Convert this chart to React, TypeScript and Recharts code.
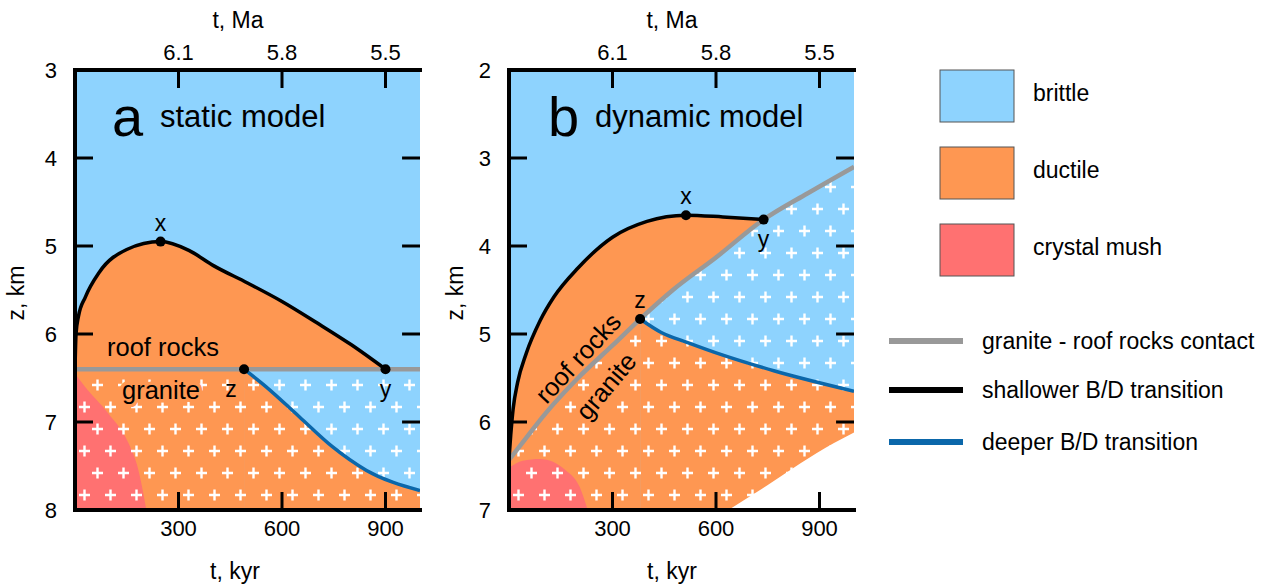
import {
  Area,
  CartesianGrid,
  ComposedChart,
  Line,
  ReferenceDot,
  ReferenceLine,
  XAxis,
  YAxis,
} from "recharts"
import type { ReactNode } from "react"

// colours
const BRITTLE = "#8ed3fe"
const DUCTILE = "#fe9752"
const MUSH = "#ff7171"
const CONTACT = "#999999"
const DEEPER = "#0b67aa"

// shared axes
const kyrTicks = [300, 600, 900]
const maTickLabels = ["6.1", "5.8", "5.5"]
const T_MAX = 1000

// panel a, static model
const aDepthTicks = [3, 4, 5, 6, 7, 8]
const aShallowT = [0, 3, 10, 30, 70, 150, 248, 330, 400, 500, 600, 700, 800, 900]
const aShallowZ = [6.4, 6.0, 5.8, 5.58, 5.3, 5.04, 4.95, 5.05, 5.22, 5.42, 5.63, 5.87, 6.12, 6.4]
const aContactT = [0, 1000]
const aContactZ = [6.4, 6.4]
const aDeepT = [490, 554, 650, 746, 845, 1000]
const aDeepZ = [6.4, 6.6, 6.94, 7.28, 7.55, 7.78]
const aMushT = [0, 29, 96, 155, 184, 207]
const aMushZ = [6.45, 6.6, 6.9, 7.24, 7.55, 8.0]
const aDotT = [248, 900, 490]
const aDotZ = [4.95, 6.4, 6.4]

// panel b, dynamic model
const bDepthTicks = [2, 3, 4, 5, 6, 7]
const bShallowT = [0, 5, 12, 25, 50, 90, 130, 200, 300, 400, 513, 620, 738]
const bShallowZ = [6.42, 6.15, 5.85, 5.55, 5.22, 4.85, 4.58, 4.25, 3.9, 3.72, 3.65, 3.67, 3.7]
const bContactT = [0, 50, 100, 200, 300, 380, 475, 600, 738, 866, 1000]
const bContactZ = [6.43, 6.18, 5.93, 5.5, 5.13, 4.83, 4.5, 4.13, 3.7, 3.4, 3.1]
const bDeepT = [380, 440, 520, 620, 770, 1000]
const bDeepZ = [4.83, 4.98, 5.1, 5.24, 5.42, 5.65]
const bMushT = [0, 40, 90, 165, 205, 228]
const bMushZ = [6.52, 6.44, 6.42, 6.55, 6.74, 7.0]
const bLowerT = [636, 749, 845, 942, 1000]
const bLowerZ = [7.0, 6.72, 6.47, 6.24, 6.12]
const bDotT = [513, 738, 380]
const bDotZ = [3.65, 3.7, 4.83]

const dotLabels = ["x", "y", "z"]

type Pt = { t: number; z: number }
const pts = (ts: number[], zs: number[]): Pt[] => ts.map((t, i) => ({ t, z: zs[i] }))

type DotSpec = { t: number; z: number; label: string; pos: string; dx?: number }

type PanelProps = {
  id: string
  left: number
  depthTicks: number[]
  shallow: Pt[]
  contact: Pt[]
  brittleGranite: Pt[]
  deep: Pt[]
  mush: Pt[]
  lower?: Pt[]
  dots: DotSpec[]
  children?: ReactNode
}

const font = "'Liberation Sans', Arial, sans-serif"

// chart frame
const W = 440
const H = 588
const MARGIN = { top: 10, right: 20, bottom: 10, left: 20 }
const Y_AXIS_W = 55
const TOP_AXIS_H = 60
const BOTTOM_AXIS_H = 68
const PLOT_LEFT = MARGIN.left + Y_AXIS_W
const PLOT_TOP = MARGIN.top + TOP_AXIS_H
const PLOT_W = W - PLOT_LEFT - MARGIN.right
const PANEL_LEFTS = [0, 434]

// inward tick length for the right frame, in data units (about 18 px)
const TICK_T = 52
const TICK_PX = 18

const Panel = ({
  id,
  left,
  depthTicks,
  shallow,
  contact,
  brittleGranite,
  deep,
  mush,
  lower,
  dots,
  children,
}: PanelProps) => {
  const zMin = depthTicks[0]
  const zMax = depthTicks[depthTicks.length - 1]
  const tick = { fontSize: 22, fill: "#000", fontFamily: font }
  const border = { stroke: "#000", strokeWidth: 4, strokeLinecap: "square" as const }
  const tickLine = { stroke: "#000", strokeWidth: 3 }
  const area = { dataKey: "z", type: "monotone" as const, baseValue: zMax, fillOpacity: 1, stroke: "none", isAnimationActive: false }
  return (
    <div style={{ position: "absolute", left, top: 0, width: W, height: H }}>
      <ComposedChart width={W} height={H} margin={MARGIN}>
        <defs>
          <pattern
            id={`plus-${id}`}
            width={26}
            height={44}
            patternUnits='userSpaceOnUse'
          >
            <path
              d='M1 11h11M6.5 5.5v11M14 33h11M19.5 27.5v11'
              stroke='#fff'
              strokeWidth={2.4}
            />
          </pattern>
        </defs>
        <CartesianGrid horizontal={false} vertical={false} fill={BRITTLE} />

        <Area {...area} data={shallow} fill={DUCTILE} />
        <Area {...area} data={brittleGranite} fill={BRITTLE} />
        <Area {...area} data={deep} fill={DUCTILE} />
        <Area {...area} data={mush} fill={MUSH} />
        <Area {...area} data={contact} fill={`url(#plus-${id})`} />
        {lower && <Area {...area} data={lower} fill='#fff' />}

        <Line data={contact} dataKey='z' type='monotone' stroke={CONTACT} strokeWidth={4.5} dot={false} isAnimationActive={false} />
        <Line data={shallow} dataKey='z' type='monotone' stroke='#000' strokeWidth={3.5} dot={false} isAnimationActive={false} />
        <Line
          data={deep}
          dataKey='z'
          type='monotone'
          xAxisId='top'
          yAxisId='right'
          stroke={DEEPER}
          strokeWidth={3.5}
          dot={false}
          isAnimationActive={false}
        />

        {depthTicks.slice(1, -1).map((z) => (
          <ReferenceLine
            key={`rt${z}`}
            segment={[{ x: T_MAX, y: z }, { x: T_MAX - TICK_T, y: z }]}
            stroke='#000'
            strokeWidth={3}
          />
        ))}

        {dots.map((d) => (
          <ReferenceDot
            key={d.label}
            x={d.t}
            y={d.z}
            r={5}
            fill='#000'
            stroke='none'
            label={{
              value: d.label,
              position: d.pos as any,
              fontSize: 23,
              fill: "#000",
              offset: 6,
              dx: d.dx ?? 0,
              fontFamily: font,
            }}
          />
        ))}

        <XAxis
          type='number'
          dataKey='t'
          domain={[0, T_MAX]}
          allowDataOverflow
          ticks={kyrTicks}
          height={BOTTOM_AXIS_H}
          tick={tick}
          tickSize={-TICK_PX}
          tickMargin={28}
          tickLine={tickLine}
          axisLine={border}
        />
        <XAxis
          xAxisId='top'
          orientation='top'
          type='number'
          dataKey='t'
          domain={[0, T_MAX]}
          allowDataOverflow
          ticks={kyrTicks}
          tickFormatter={(v: number) => maTickLabels[kyrTicks.indexOf(v)]}
          height={TOP_AXIS_H}
          tick={tick}
          tickSize={0}
          tickMargin={10}
          tickLine={false}
          axisLine={border}
        />
        <YAxis
          type='number'
          domain={[zMin, zMax]}
          allowDataOverflow
          ticks={depthTicks}
          reversed
          width={Y_AXIS_W}
          tick={tick}
          tickSize={-TICK_PX}
          tickMargin={36}
          tickLine={tickLine}
          axisLine={border}
        />
        <YAxis
          yAxisId='right'
          orientation='right'
          type='number'
          domain={[zMin, zMax]}
          allowDataOverflow
          ticks={depthTicks}
          reversed
          width={0}
          tick={false}
          tickLine={false}
          axisLine={border}
        />
      </ComposedChart>
      <svg
        width={W}
        height={H}
        style={{ position: "absolute", left: 0, top: 0, pointerEvents: "none" }}
      >
        {children}
      </svg>
    </div>
  )
}

const halo = (c: string) => ({ stroke: c, strokeWidth: 7, paintOrder: "stroke" as const })

const Overlay = () => {
  const boxes = [
    { label: "brittle", fill: BRITTLE, y: 70 },
    { label: "ductile", fill: DUCTILE, y: 147 },
    { label: "crystal mush", fill: MUSH, y: 224 },
  ]
  const lines = [
    { label: "granite - roof rocks contact", stroke: CONTACT, y: 341 },
    { label: "shallower B/D transition", stroke: "#000", y: 390 },
    { label: "deeper B/D transition", stroke: DEEPER, y: 442 },
  ]
  return (
    <svg
      width={1270}
      height={588}
      style={{ position: "absolute", left: 0, top: 0, pointerEvents: "none" }}
    >
      {/* inward marks of the top (Ma) axes */}
      {PANEL_LEFTS.map((pl) =>
        kyrTicks.map((t) => {
          const x = pl + PLOT_LEFT + (t / T_MAX) * PLOT_W
          return (
            <rect
              key={`${pl}-${t}`}
              x={x - 1.5}
              y={PLOT_TOP}
              width={3}
              height={TICK_PX}
              fill='#000'
            />
          )
        })
      )}
      {boxes.map((b) => (
        <g key={b.label}>
          <rect x={940} y={b.y} width={74} height={52} fill={b.fill} stroke='#555' strokeWidth={1} />
          <text x={1033} y={b.y + 31} fontSize={23} fill='#000'>
            {b.label}
          </text>
        </g>
      ))}
      {lines.map((l) => (
        <g key={l.label}>
          <line x1={889} x2={963} y1={l.y} y2={l.y} stroke={l.stroke} strokeWidth={6} />
          <text x={982} y={l.y + 8} fontSize={23} fill='#000'>
            {l.label}
          </text>
        </g>
      ))}
    </svg>
  )
}

const App = () => {
  const aDots: DotSpec[] = [
    { t: aDotT[0], z: aDotZ[0], label: dotLabels[0], pos: "top" },
    { t: aDotT[1], z: aDotZ[1], label: dotLabels[1], pos: "bottom" },
    { t: aDotT[2], z: aDotZ[2], label: dotLabels[2], pos: "bottom", dx: -13 },
  ]
  const bDots: DotSpec[] = [
    { t: bDotT[0], z: bDotZ[0], label: dotLabels[0], pos: "top" },
    { t: bDotT[1], z: bDotZ[1], label: dotLabels[1], pos: "bottom" },
    { t: bDotT[2], z: bDotZ[2], label: dotLabels[2], pos: "top" },
  ]
  const aContact = pts(aContactT, aContactZ)
  const bContact = pts(bContactT, bContactZ)

  return (
    <div
      style={{
        position: "absolute",
        left: 0,
        top: 0,
        width: 1270,
        height: 588,
        background: "#fff",
        fontFamily: font,
      }}
    >
      <Panel
        id='a'
        left={PANEL_LEFTS[0]}
        depthTicks={aDepthTicks}
        shallow={pts(aShallowT, aShallowZ)}
        contact={aContact}
        brittleGranite={[{ t: aDeepT[0], z: aContactZ[0] }, { t: aContactT[1], z: aContactZ[1] }]}
        deep={pts(aDeepT, aDeepZ)}
        mush={pts(aMushT, aMushZ)}
        dots={aDots}
      >
        <text x={112} y={136} fontSize={56} fill='#000'>a</text>
        <text x={160} y={127} fontSize={31} fill='#000'>static model</text>
        <text x={107} y={356} fontSize={25.5} fill='#000'>roof rocks</text>
        <text x={122} y={399} fontSize={25.5} fill='#000' {...halo(DUCTILE)}>granite</text>
        <text x={238} y={28} fontSize={23} textAnchor='middle' fill='#000'>t, Ma</text>
        <text x={235} y={579} fontSize={23} textAnchor='middle' fill='#000'>t, kyr</text>
        <text x={24} y={293} fontSize={23} textAnchor='middle' fill='#000' transform='rotate(-90, 24, 293)'>z, km</text>
      </Panel>
      <Panel
        id='b'
        left={PANEL_LEFTS[1]}
        depthTicks={bDepthTicks}
        shallow={pts(bShallowT, bShallowZ)}
        contact={bContact}
        brittleGranite={bContact.filter((p) => p.t >= bDeepT[0])}
        deep={pts(bDeepT, bDeepZ)}
        mush={pts(bMushT, bMushZ)}
        lower={pts(bLowerT, bLowerZ)}
        dots={bDots}
      >
        <text x={114} y={136} fontSize={56} fill='#000'>b</text>
        <text x={161} y={127} fontSize={31} fill='#000'>dynamic model</text>
        <text x={144} y={358} fontSize={25.5} fill='#000' textAnchor='middle' dominantBaseline='central' transform='rotate(-47, 144, 358)'>roof rocks</text>
        <text x={172} y={386} fontSize={25.5} fill='#000' textAnchor='middle' dominantBaseline='central' transform='rotate(-50, 172, 386)' {...halo(DUCTILE)}>granite</text>
        <text x={238} y={28} fontSize={23} textAnchor='middle' fill='#000'>t, Ma</text>
        <text x={238} y={579} fontSize={23} textAnchor='middle' fill='#000'>t, kyr</text>
        <text x={29} y={293} fontSize={23} textAnchor='middle' fill='#000' transform='rotate(-90, 29, 293)'>z, km</text>
      </Panel>
      <Overlay />
    </div>
  )
}

export default App
